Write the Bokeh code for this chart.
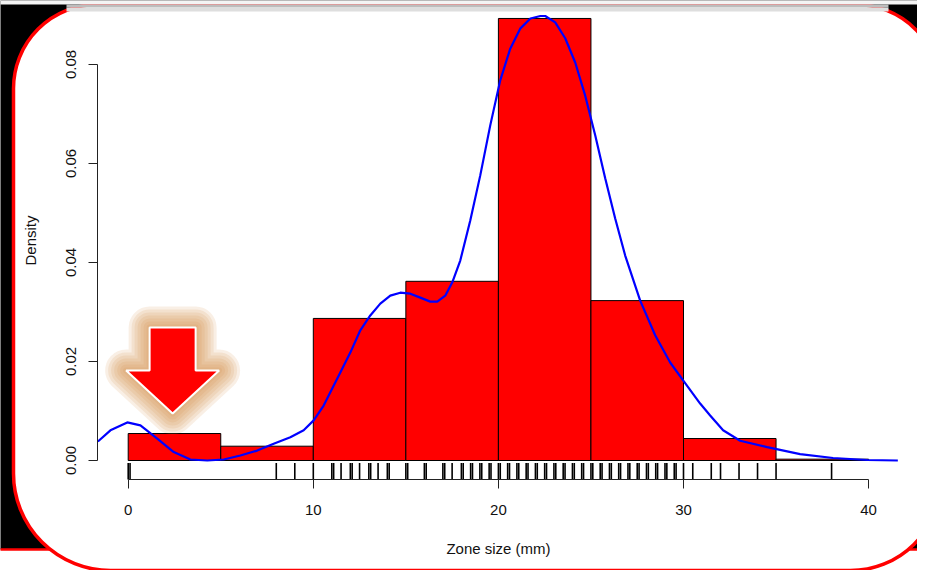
import math
import numpy as np
from bokeh.plotting import figure
from bokeh.models import Range1d, BoxAnnotation, FixedTicker, PrintfTickFormatter, LinearAxis, Label
from bokeh.embed import file_html
from bokeh.resources import INLINE

# ---------------- data ----------------
BREAKS = [0, 5, 10, 15, 20, 25, 30, 35, 40]
DENSITY = [0.00545, 0.00289, 0.0287, 0.0362, 0.0893, 0.0323, 0.00444, 0.00027]

KDE_X = [-1.66, -1.59, -0.96, -0.05, 0.66, 1.57, 2.46, 3.36, 4.27, 5.16, 6.06, 6.97,
         7.86, 8.76, 9.48, 10.02, 10.56, 10.92, 11.46, 12.00, 12.54, 13.08, 13.62,
         14.16, 14.70, 15.24, 15.78, 16.32, 16.70, 17.13, 17.51, 17.94, 18.48, 19.02,
         19.56, 20.10, 20.64, 21.19, 21.73, 22.27, 22.53, 23.07, 23.61, 24.15, 24.69,
         25.23, 25.77, 26.31, 26.85, 27.66, 28.47, 29.28, 29.98, 30.90, 31.44, 32.14,
         33.06, 34.52, 36.30, 38.08, 39.92, 41.58]
KDE_Y = [0.0039, 0.0040, 0.0061, 0.0077, 0.0071, 0.0044, 0.0017, 0.0002, 0.0000,
         0.0002, 0.0010, 0.0020, 0.0034, 0.0047, 0.0061, 0.0081, 0.0111, 0.0138,
         0.0178, 0.0218, 0.0263, 0.0293, 0.0317, 0.0333, 0.0339, 0.0337, 0.0329,
         0.0321, 0.0321, 0.0333, 0.0360, 0.0404, 0.0485, 0.0576, 0.0677, 0.0768,
         0.0832, 0.0873, 0.0893, 0.0898, 0.0898, 0.0885, 0.0853, 0.0804, 0.0737,
         0.0657, 0.0570, 0.0489, 0.0414, 0.0323, 0.0253, 0.0198, 0.0162, 0.0115,
         0.0091, 0.0061, 0.0040, 0.0027, 0.0013, 0.0005, 0.0001, 0.0000]

RUG = [0.0, 0.1, 8, 9, 10, 11, 11.1, 11.5, 12, 12.1, 12.5, 13, 13.1, 13.5, 14, 14.1,
       15, 15.1, 16, 16.1, 17, 17.1, 17.5, 18, 18.1, 18.5, 18.6, 19, 19.1, 19.5, 19.6,
       20, 20.1, 20.5, 20.6, 21, 21.1, 21.5, 21.6, 22, 22.1, 22.5, 22.6, 23, 23.1,
       23.5, 23.6, 24, 24.1, 24.5, 24.6, 25, 25.1, 25.5, 25.6, 26, 26.1, 26.5, 26.6,
       27, 27.1, 27.5, 27.6, 28, 28.1, 28.5, 28.6, 29, 29.1, 29.5, 29.6, 30, 30.5,
       31.5, 32, 33, 34, 35, 38]

X_TICKS = [0, 10, 20, 30, 40]
Y_TICKS = [0.0, 0.02, 0.04, 0.06, 0.08]
X_LABEL = "Zone size (mm)"
Y_LABEL = "Density"

# annotation arrow: tip position (data units)
ARROW_TIP = (2.4, 0.0095)

# ---------------- layout ----------------
W, H = 917, 570
X0_PX, PX_PER_X = 127.7, 18.51      # canvas x of value 0, px per mm
Y0_PX, PX_PER_Y = 460.0, 4950.0     # canvas y of density 0, px per density unit

x_range = Range1d(-X0_PX / PX_PER_X, (W - X0_PX) / PX_PER_X)
y_range = Range1d(-(H - Y0_PX) / PX_PER_Y, Y0_PX / PX_PER_Y)

PLOT_LEFT = (97 - X0_PX) / PX_PER_X         # y axis position
PLOT_BOTTOM = (Y0_PX - 479) / PX_PER_Y      # x axis position
RUG_TOP = (Y0_PX - 462.5) / PX_PER_Y

FONT = "Liberation Sans"

p = figure(width=W, height=H, x_range=x_range, y_range=y_range,
           output_backend="svg", toolbar_location=None,
           x_axis_location=None, y_axis_location=None,
           min_border=0, outline_line_color=None,
           background_fill_color="white", border_fill_color="white")
p.grid.visible = False

UNITS = dict(left_units="canvas", right_units="canvas",
             top_units="canvas", bottom_units="canvas")

# ---- backdrop: black page, rounded white card with red edge ----
p.add_layout(BoxAnnotation(left=-10, right=930, top=-10, bottom=549,
                           fill_color="black", fill_alpha=1,
                           line_color="red", line_alpha=1, line_width=2.5,
                           level="image", **UNITS))
p.add_layout(BoxAnnotation(left=13, right=940, top=4, bottom=570,
                           fill_color="white", fill_alpha=1,
                           line_color="red", line_alpha=1, line_width=3.5,
                           border_radius=(84, 85, 90, 97),
                           level="underlay", **UNITS))
# window top strip (drawn above the card edge)
p.add_layout(BoxAnnotation(left=-10, right=930, top=-10, bottom=4,
                           fill_color="#f4f4f4", fill_alpha=1,
                           line_color=None, level="overlay", **UNITS))
p.add_layout(BoxAnnotation(left=66, right=888, top=4, bottom=7,
                           fill_color="#bdbdbd", fill_alpha=1,
                           line_color=None, level="overlay", **UNITS))
p.add_layout(BoxAnnotation(left=66, right=888, top=7, bottom=11,
                           fill_color="#dedede", fill_alpha=1,
                           line_color=None, level="overlay", **UNITS))

# ---- histogram ----
p.quad(left=BREAKS[:-1], right=BREAKS[1:], bottom=0, top=DENSITY,
       fill_color="red", line_color="black", line_width=1)

# ---- density curve ----
p.line(KDE_X, KDE_Y, line_color="blue", line_width=2.2)

# ---- rug ----
p.segment(x0=RUG, y0=PLOT_BOTTOM, x1=RUG, y1=RUG_TOP,
          line_color="black", line_width=1.6)

# ---- arrow with glow ----
shape_px = [(0, 0), (-46.5, 43), (-23, 43), (-23, 86), (23, 86), (23, 43), (46.5, 43)]
ax = [ARROW_TIP[0] + dx / PX_PER_X for dx, dy in shape_px]
ay = [ARROW_TIP[1] + dy / PX_PER_Y for dx, dy in shape_px]
for w in [42, 36, 30, 24, 18, 12, 6]:
    p.patch(ax, ay, fill_alpha=0, line_color="#d4914a", line_alpha=0.14,
            line_width=w, line_join="round")
p.patch(ax, ay, fill_color="red", line_color="white", line_width=2)

# ---- axes ----
def style_axis(a):
    a.axis_line_color = "#222222"
    a.axis_line_width = 1
    a.major_tick_line_color = "#222222"
    a.major_tick_out = 9
    a.major_tick_in = 0
    a.minor_tick_out = 0
    a.minor_tick_in = 0
    a.major_label_text_font = FONT
    a.major_label_text_font_size = "15px"
    a.major_label_text_color = "#111111"
    a.axis_label_text_font = FONT
    a.axis_label_text_font_size = "15px"
    a.axis_label_text_font_style = "normal"
    a.axis_label_text_color = "#111111"

xaxis = LinearAxis(fixed_location=PLOT_BOTTOM, bounds=(0, 40),
                   ticker=FixedTicker(ticks=X_TICKS), axis_label=X_LABEL)
style_axis(xaxis)
xaxis.major_label_standoff = 16
xaxis.axis_label_standoff = 22
p.add_layout(xaxis, "below")

yaxis = LinearAxis(fixed_location=PLOT_LEFT, bounds=(0, 0.08),
                   ticker=FixedTicker(ticks=Y_TICKS),
                   formatter=PrintfTickFormatter(format="%.2f"),
                   major_label_orientation="vertical")
style_axis(yaxis)
yaxis.major_label_standoff = 13
p.add_layout(yaxis, "left")

# y-axis title, centred on the plotting region as in the original
p.add_layout(Label(x=30, y=H - 240, x_units="screen", y_units="screen",
                   text=Y_LABEL, angle=math.pi / 2, text_align="center",
                   text_baseline="middle", text_font=FONT,
                   text_font_size="15px", text_color="#111111"))

open("out.html", "w").write(file_html(p, INLINE))
